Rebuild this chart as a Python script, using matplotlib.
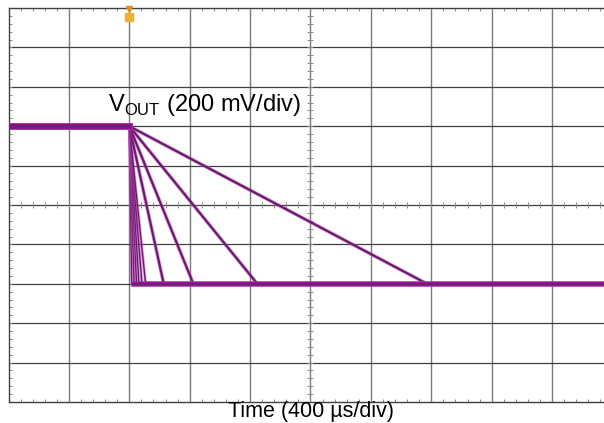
import numpy as np
import matplotlib
matplotlib.use('Agg')
import matplotlib.pyplot as plt
import matplotlib.patheffects as pe

plt.rcParams['font.family'] = ['Liberation Sans', 'DejaVu Sans']
plt.rcParams['mathtext.fontset'] = 'custom'
plt.rcParams['mathtext.rm'] = 'Liberation Sans'

# 数据 (单位: 格)
t_start = 2.0          # 开始下降的时刻
v_high = 7.0           # 初始电平
v_low = 3.0            # 最终电平
ramp_end = [2.04, 2.08, 2.12, 2.16, 2.21, 2.27, 2.57, 3.06, 4.12, 6.93]
x_max = 9.86           # 右侧被截掉
n_xdiv, n_ydiv = 10, 10

fig = plt.figure(figsize=(6.04, 4.23), dpi=100)
ax = fig.add_axes([8.5 / 604, 21 / 423, (604 - 8.5) / 604, 394 / 423])
ax.set_xlim(0, x_max)
ax.set_ylim(0, n_ydiv)

# 网格
for i in range(1, n_xdiv):
    ax.axvline(i, color='#7a7a7a', lw=1.0, zorder=1)
for j in range(1, n_ydiv):
    ax.axhline(j, color='#404040', lw=0.9, zorder=1)

for s in ['left', 'top', 'bottom']:
    ax.spines[s].set_color('#404040')
    ax.spines[s].set_linewidth(1.0)
ax.spines['right'].set_visible(False)

ax.set_xticks(np.arange(0, x_max, 0.2))
ax.set_yticks(np.arange(0, n_ydiv + 0.01, 0.2))
ax.tick_params(direction='in', length=2.5, width=0.7, color='#8a8a8a',
               top=True, labelbottom=False, labelleft=False)

# 中心刻度线
cx = np.arange(0, x_max, 0.2)
cy = np.arange(0, n_ydiv, 0.2)
ax.plot(cx, np.full_like(cx, n_ydiv / 2), ls='none', marker='|', ms=5,
        mew=0.7, color='#8a8a8a', zorder=1)
ax.plot(np.full_like(cy, n_xdiv / 2), cy, ls='none', marker='_', ms=5,
        mew=0.7, color='#8a8a8a', zorder=1)

# 各条下降曲线
for te in ramp_end:
    lw = 1.0 if te < 2.5 else 1.6
    ax.plot([t_start, te], [v_high, v_low], color='#6a1a6a', lw=lw,
            solid_capstyle='butt', zorder=3,
            path_effects=[pe.Stroke(linewidth=lw + 1.2, foreground='#c050c0', alpha=0.5), pe.Normal()])

# 高低电平
ax.plot([0, t_start], [v_high, v_high], color='#7a1a7a', lw=3.5, zorder=4,
        path_effects=[pe.Stroke(linewidth=5, foreground='#b030b0'), pe.Normal()])
ax.plot([min(ramp_end) + 0.03, x_max], [v_low, v_low], color='#7a1a7a', lw=2.6,
        zorder=4, path_effects=[pe.Stroke(linewidth=4, foreground='#b030b0'), pe.Normal()])

# 触发标记
ax.plot([t_start], [n_ydiv - 0.22], marker='s', ms=6, color='#f0b030',
        clip_on=False, zorder=5)
ax.plot([t_start], [n_ydiv - 0.02], marker='v', ms=4, color='#e09020',
        clip_on=False, zorder=5)

ax.text(1.64, 7.54, r'V$_{\mathrm{OUT}}$ (200 mV/div)', fontsize=17,
        ha='left', va='center', zorder=6)
fig.text(311 / 604, 1 - 411 / 423, 'Time (400 µs/div)', fontsize=15.5,
         ha='center', va='center')

fig.savefig('out.png', dpi=100)
